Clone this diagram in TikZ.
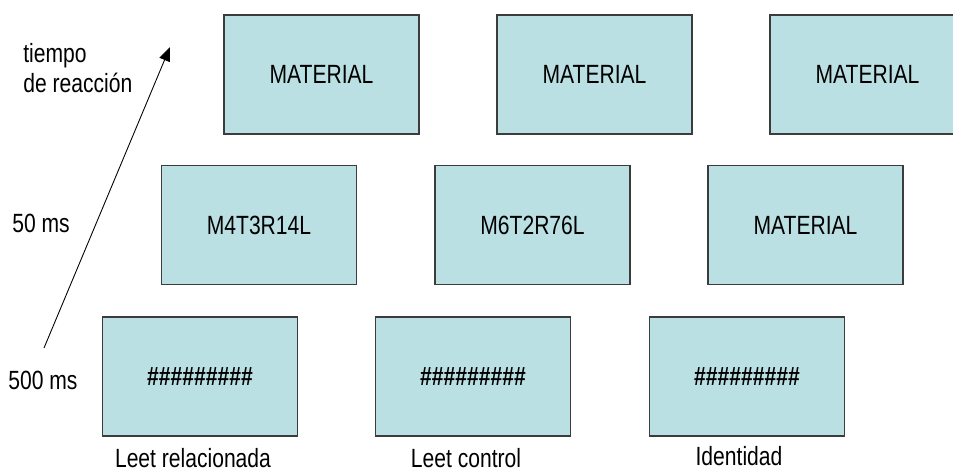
\documentclass[tikz,border=0pt]{standalone}
\usepackage{fontspec}
\setmainfont{Liberation Sans}[FakeStretch=0.8]
\usetikzlibrary{positioning, arrows.meta}
\definecolor{cajafondo}{RGB}{187,224,227}
\definecolor{cajaborde}{RGB}{60,60,60}

\begin{document}
\begin{tikzpicture}[
  caja/.style={draw=cajaborde, fill=cajafondo, line width=0.6pt, minimum width=3.9cm, minimum height=2.38cm, font=\fontsize{15}{17}\selectfont},
  rotulo/.style={font=\fontsize{15}{17}\selectfont, inner sep=0pt}
]
\useasboundingbox (0,0) rectangle (19.06,9.46);

% fila de abajo: mascara
\node[caja] (masc1) at (4.0,1.93) {\bfseries\#\#\#\#\#\#\#\#\#};
\node[caja] (masc2) at (9.46,1.93) {\bfseries\#\#\#\#\#\#\#\#\#};
\node[caja] (masc3) at (14.94,1.93) {\bfseries\#\#\#\#\#\#\#\#\#};

% fila del medio: prime
\node[caja] (prime1) at (5.18,4.96) {M4T3R14L};
\node[caja] (prime2) at (10.65,4.96) {M6T2R76L};
\node[caja] (prime3) at (16.11,4.96) {MATERIAL};

% fila de arriba: target
\node[caja] (target1) at (6.43,7.97) {MATERIAL};
\node[caja] (target2) at (11.89,7.97) {MATERIAL};
\node[caja] (target3) at (17.35,7.97) {MATERIAL};

\node[rotulo] (relac) at (3.86,0.3) {Leet relacionada};
\node[rotulo] (contr) at (9.32,0.3) {Leet control};
\node[rotulo] (ident) at (14.78,0.34) {Identidad};

\node[rotulo, anchor=west] (t500) at (0.16,1.86) {500 ms};
\node[rotulo, anchor=west] (t50) at (0.24,5.0) {50 ms};
\node[rotulo, anchor=west, align=left] (treac) at (0.46,8.1) {tiempo\\de reacción};

\coordinate (ini) at (0.88,2.5);
\coordinate (fin) at (3.4,8.52);
\draw[-{Triangle[length=0.28cm, width=0.22cm]}, line width=0.5pt] (ini) -- (fin);
\end{tikzpicture}
\end{document}
